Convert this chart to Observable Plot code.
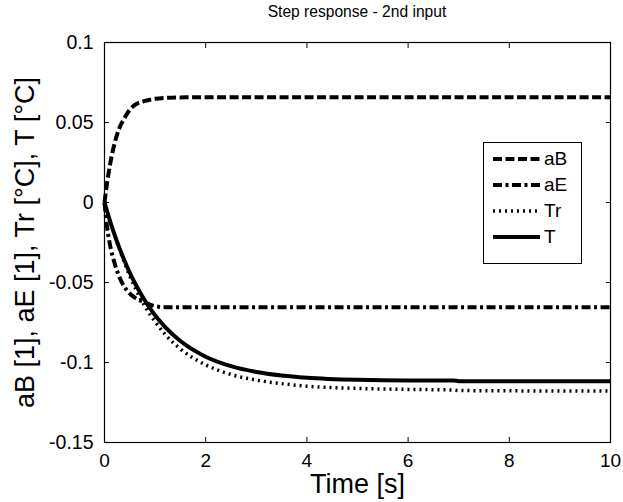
<!DOCTYPE html>
<html>
<head>
<meta charset="utf-8">
<script src="https://cdn.jsdelivr.net/npm/d3@7"></script>
<script src="https://cdn.jsdelivr.net/npm/@observablehq/plot@0.6"></script>
<style>
  body { margin: 0; background: #fff; font-family: "Liberation Sans", Arial, sans-serif; }
  #wrap { position: relative; width: 623px; height: 502px; }
  #title { position: absolute; left: 104px; width: 506px; top: 2px; text-align: center; font-size: 15.6px; line-height: 20px; color: #000; }
  #chart { position: absolute; left: 0; top: 0; }
  #legend { position: absolute; left: 483px; top: 142px; width: 99px; height: 122px; border: 1px solid #000; background: #fff; box-sizing: border-box; }
  .row { position: absolute; left: 0; height: 22px; width: 100%; font-size: 19px; line-height: 22px; }
  .row svg { position: absolute; left: 9px; top: 0; }
  .row span { position: absolute; left: 60px; top: 0; }
</style>
</head>
<body>
<div id="wrap">
  <div id="chart"></div>
  <div id="title">Step response - 2nd input</div>
  <div id="legend"></div>
</div>
<script>
const time = [0, 0.05, 0.1, 0.2, 0.3, 0.4, 0.5, 0.6, 0.8, 1.0, 1.2, 1.5, 2, 2.5, 3, 3.5, 4, 5, 6, 6.9, 7, 8, 9, 10];
const aB = [0, 0.012, 0.022, 0.037, 0.047, 0.053, 0.058, 0.061, 0.0635, 0.0648, 0.0654, 0.0657, 0.0658, 0.0658, 0.0658, 0.0658, 0.0658, 0.0658, 0.0658, 0.0658, 0.0658, 0.0658, 0.0658, 0.0658];
const aE = [0, -0.015, -0.025, -0.038, -0.047, -0.053, -0.057, -0.0595, -0.0625, -0.0648, -0.0654, -0.0654, -0.0654, -0.0654, -0.0654, -0.0654, -0.0654, -0.0654, -0.0654, -0.0654, -0.0654, -0.0654, -0.0654, -0.0654];
const Tr = [0, -0.006, -0.011, -0.0205, -0.0295, -0.038, -0.046, -0.053, -0.065, -0.0745, -0.0825, -0.0915, -0.1015, -0.1075, -0.111, -0.1132, -0.1148, -0.1162, -0.1168, -0.1172, -0.1175, -0.1177, -0.1178, -0.1178];
const T = [0, -0.0053, -0.0106, -0.0202, -0.0289, -0.0367, -0.0439, -0.0503, -0.0614, -0.0705, -0.0779, -0.0866, -0.0964, -0.1023, -0.1059, -0.1081, -0.1095, -0.1108, -0.1112, -0.1112, -0.1117, -0.1117, -0.1117, -0.1117];
const seriesNames = ["aB", "aE", "Tr", "T"];
const xTicks = [0, 2, 4, 6, 8, 10];
const yTicks = [0.1, 0.05, 0, -0.05, -0.1, -0.15];

const styles = {
  aB: {strokeWidth: 4, dash: "9,3.5"},
  aE: {strokeWidth: 4, dash: "9,3.5,3,3.5"},
  Tr: {strokeWidth: 3.5, dash: "2,4"},
  T:  {strokeWidth: 4, dash: "none"}
};
const valuesBy = {aB, aE, Tr, T};
const rows = seriesNames.flatMap(s => time.map((t, i) => ({series: s, t, v: valuesBy[s][i]})));

const fontAx = "Liberation Sans, Arial, sans-serif";
const plot = Plot.plot({
  width: 623,
  height: 502,
  marginLeft: 104,
  marginRight: 13,
  marginTop: 42,
  marginBottom: 60,
  style: {fontFamily: fontAx, background: "white", color: "black", overflow: "visible"},
  x: {domain: [0, 10]},
  y: {domain: [-0.15, 0.1]},
  marks: [
    ...seriesNames.map(s => Plot.line(rows.filter(d => d.series === s), {
      x: "t", y: "v", stroke: "black", strokeWidth: styles[s].strokeWidth, curve: "monotone-x"
    })),
    Plot.frame({stroke: "black", strokeWidth: 1.2}),
    Plot.axisX({anchor: "bottom", ticks: xTicks, tickSize: -5, tickFormat: () => "", label: null}),
    Plot.axisX({anchor: "top", ticks: xTicks, tickSize: -5, tickFormat: () => "", label: null}),
    Plot.axisY({anchor: "left", ticks: yTicks, tickSize: -5, tickFormat: () => "", label: null}),
    Plot.axisY({anchor: "right", ticks: yTicks, tickSize: -5, tickFormat: () => "", label: null}),
    Plot.axisX({anchor: "bottom", ticks: xTicks, tickSize: 0, tickPadding: 11, fontSize: 19,
      tickFormat: d => String(d), label: "Time [s]", labelAnchor: "center", labelArrow: "none", labelOffset: 50}),
    Plot.axisY({anchor: "left", ticks: yTicks, tickSize: 0, tickPadding: 11, fontSize: 19.5,
      tickFormat: d => String(d), label: "aB [1], aE [1], Tr [°C], T [°C]", labelAnchor: "center", labelArrow: "none", labelOffset: 90})
  ]
});
// dash patterns applied to the rendered series paths (line groups are in mark order)
const lineGroups = plot.querySelectorAll("g[aria-label='line']");
lineGroups.forEach((g, i) => {
  const s = seriesNames[i];
  if (!s) return;
  g.querySelectorAll("path").forEach(p => {
    p.setAttribute("stroke-dasharray", styles[s].dash);
    p.setAttribute("stroke-linecap", "butt");
  });
});
// axis label font size
plot.querySelectorAll("g[aria-label='x-axis label'], g[aria-label='y-axis label']").forEach(g => {
  g.setAttribute("font-size", "27");
  g.querySelectorAll("text").forEach(t => t.setAttribute("font-size", "27"));
});
document.getElementById("chart").appendChild(plot);

// legend
const legend = document.getElementById("legend");
seriesNames.forEach((s, i) => {
  const row = document.createElement("div");
  row.className = "row";
  row.style.top = (5 + i * 26) + "px";
  const st = styles[s];
  row.innerHTML = `<svg width="48" height="22"><line x1="0" x2="47" y1="11" y2="11" stroke="black" stroke-width="${st.strokeWidth}" stroke-dasharray="${st.dash}"/></svg><span>${s}</span>`;
  legend.appendChild(row);
});
</script>
</body>
</html>
